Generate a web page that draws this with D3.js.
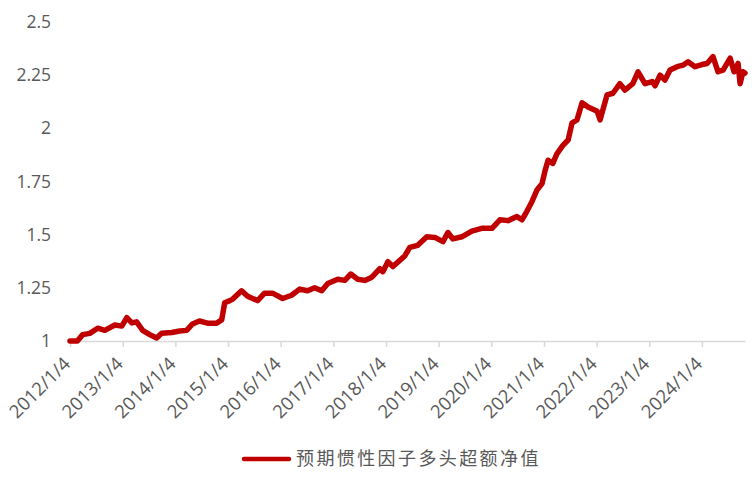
<!DOCTYPE html>
<html><head><meta charset="utf-8">
<script src="https://cdn.jsdelivr.net/npm/d3@7"></script>
<style>
html,body{margin:0;padding:0;background:#fff;}
svg{display:block;}
</style></head>
<body>
<svg id="chart" width="756" height="477"></svg>
<script>
const seriesName = "预期惯性因子多头超额净值";
const dates = ["2012-01-04","2012-02-24","2012-04-01","2012-05-20","2012-07-14","2012-09-01","2012-11-10","2012-12-28",
"2013-02-01","2013-03-08","2013-04-10","2013-05-22","2013-07-10","2013-08-27","2013-10-01","2013-12-10",
"2014-02-03","2014-03-23","2014-05-03","2014-06-20","2014-08-15","2014-10-17","2014-11-21","2014-12-12",
"2015-01-17","2015-02-06","2015-04-08","2015-05-20","2015-07-28","2015-09-14","2015-11-09",
"2016-01-18","2016-03-20","2016-05-15","2016-07-09","2016-08-27","2016-10-15","2016-11-26",
"2017-02-03","2017-03-24","2017-05-05","2017-06-22","2017-08-10","2017-09-28","2017-11-22","2017-12-13",
"2018-01-17","2018-02-21","2018-05-14","2018-06-18","2018-08-12","2018-10-14","2018-12-09",
"2019-02-03","2019-03-09","2019-04-13","2019-06-14","2019-08-22","2019-10-30",
"2020-01-09","2020-03-04","2020-04-29","2020-06-30","2020-08-04","2020-09-07","2020-10-12","2020-11-16","2020-12-21",
"2021-01-11","2021-02-01","2021-03-06","2021-04-03","2021-05-15","2021-06-20","2021-07-17","2021-08-21","2021-09-25","2021-11-05",
"2022-01-08","2022-01-28","2022-03-17","2022-04-27","2022-06-14","2022-07-19","2022-09-12","2022-10-18","2022-12-05",
"2023-01-24","2023-02-13","2023-03-20","2023-04-23","2023-05-28","2023-07-16","2023-08-26","2023-09-30","2023-11-17",
"2024-01-05","2024-02-09","2024-03-21","2024-04-25","2024-05-30","2024-07-18","2024-08-14","2024-09-11","2024-09-25","2024-10-15","2024-10-29"];
const values = [1.00,1.00,1.03,1.036,1.06,1.05,1.075,1.07,
1.11,1.085,1.09,1.05,1.03,1.014,1.037,1.04,
1.047,1.05,1.08,1.094,1.084,1.084,1.099,1.18,
1.19,1.197,1.236,1.21,1.19,1.225,1.225,
1.20,1.215,1.244,1.236,1.25,1.236,1.27,
1.29,1.285,1.315,1.29,1.285,1.30,1.34,1.326,
1.373,1.35,1.40,1.44,1.45,1.49,1.487,
1.467,1.51,1.48,1.49,1.517,1.53,
1.53,1.57,1.566,1.585,1.57,1.61,1.655,1.71,1.74,
1.80,1.85,1.835,1.88,1.92,1.945,2.025,2.04,2.12,2.10,
2.08,2.04,2.157,2.165,2.21,2.18,2.21,2.266,2.21,
2.22,2.20,2.25,2.227,2.274,2.29,2.297,2.313,2.29,
2.30,2.305,2.337,2.266,2.274,2.33,2.266,2.305,2.21,2.266,2.26];
const yTicks = [1, 1.25, 1.5, 1.75, 2, 2.25, 2.5];
const xTickYears = [2012,2013,2014,2015,2016,2017,2018,2019,2020,2021,2022,2023,2024];

const parse = d3.timeParse("%Y-%m-%d");
const data = dates.map((d,i)=>({date:parse(d), value:values[i]}));
const svg = d3.select("#chart");
const x = d3.scaleTime().domain([parse("2012-01-04"), parse("2024-10-29")]).range([70, 745]);
const y = d3.scaleLinear().domain([1, 2.5]).range([341, 22]);
const font = "'Open Sans', 'Liberation Sans', sans-serif";
const grey = "#595959";

// y axis labels
const yAxis = d3.axisLeft(y).tickValues(yTicks).tickFormat(d=>String(d)).tickSize(0).tickPadding(0);
const yg = svg.append("g").attr("transform","translate(51,0)").call(yAxis);
yg.select(".domain").remove();
yg.selectAll("text").attr("font-family",font).attr("font-size",17.5).attr("fill",grey);

// x axis
const xTicks = xTickYears.map(yr=>new Date(yr,0,4));
const xAxis = d3.axisBottom(x).tickValues(xTicks).tickFormat(d3.timeFormat("%Y/%-m/%-d")).tickSizeInner(6).tickSizeOuter(0);
const xg = svg.append("g").attr("transform","translate(0,341)").call(xAxis);
xg.select(".domain").attr("stroke","#D9D9D9").attr("stroke-width",1.5);
xg.selectAll(".tick line").attr("stroke","#D9D9D9").attr("stroke-width",1.5);
xg.selectAll("text").attr("font-family",font).attr("font-size",18.5).attr("fill",grey)
  .attr("text-anchor","end").attr("dy",0).attr("y",0)
  .attr("transform","translate(1,24) rotate(-45)");

// line
const line = d3.line().x(d=>x(d.date)).y(d=>y(d.value)).curve(d3.curveLinear);
svg.append("path").datum(data).attr("d",line).attr("fill","none")
  .attr("stroke","#C00000").attr("stroke-width",5.5).attr("stroke-linejoin","round").attr("stroke-linecap","round");

// legend
const lg = svg.append("g");
lg.append("line").attr("x1",244).attr("x2",289).attr("y1",459).attr("y2",459)
  .attr("stroke","#C00000").attr("stroke-width",4.5).attr("stroke-linecap","round");
lg.append("text").attr("x",296).attr("y",459).attr("dy","0.35em")
  .attr("font-family","'Noto Sans CJK SC', sans-serif").attr("font-size",18).attr("letter-spacing",2.4)
  .attr("fill",grey).text(seriesName);
</script>
</body></html>
